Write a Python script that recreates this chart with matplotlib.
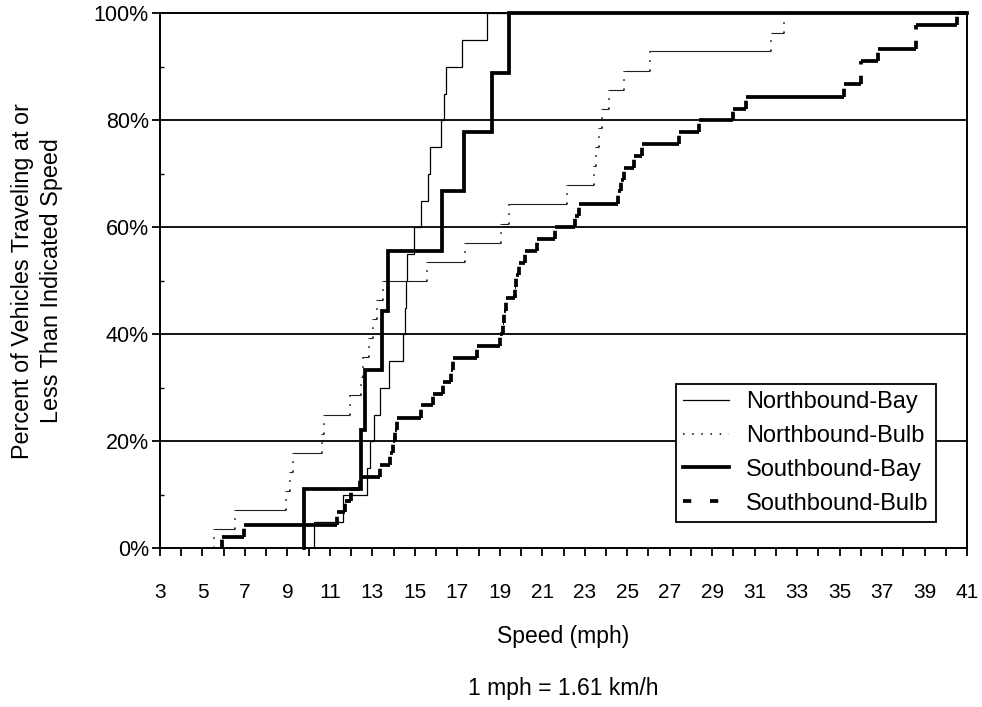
import matplotlib
matplotlib.use("Agg")
import matplotlib.pyplot as plt
from matplotlib.lines import Line2D
from matplotlib.ticker import MultipleLocator, FuncFormatter

plt.rcParams['font.family'] = ['Liberation Sans', 'DejaVu Sans']

# ---------------- data (speed in mph where the cumulative % steps up) ----------------
nb_bay_speed = [10.26, 11.6, 12.75, 12.9, 13.1, 13.35, 13.8, 14.45, 14.55, 14.6,
                14.65, 14.95, 15.3, 15.6, 15.72, 16.25, 16.35, 16.45, 17.2, 18.4]
nb_bay_pct = [5, 10, 15, 20, 25, 30, 35, 40, 45, 50,
              55, 60, 65, 70, 75, 80, 85, 90, 95, 100]

nb_bulb_speed = [5.52, 6.52, 8.95, 9.1, 9.25, 10.65, 10.72, 11.97, 12.47, 12.55,
                 12.82, 13.05, 13.2, 13.5, 15.55, 17.38, 19.05, 19.45, 22.15, 23.45,
                 23.55, 23.65, 23.83, 24.15, 24.87, 26.05, 31.77, 32.38]
nb_bulb_pct = [3.6, 7.1, 10.7, 14.3, 17.9, 21.4, 25.0, 28.6, 32.1, 35.7,
               39.3, 42.9, 46.4, 50.0, 53.6, 57.1, 60.7, 64.3, 67.9, 71.4,
               75.0, 78.6, 82.1, 85.7, 89.3, 92.9, 96.4, 100.0]

sb_bay_speed = [9.8, 12.45, 12.65, 13.45, 13.75, 16.3, 17.3, 18.65, 19.45]
sb_bay_pct = [11.1, 22.2, 33.3, 44.4, 55.6, 66.7, 77.8, 88.9, 100.0]

sb_bulb_speed = [5.9, 6.95, 11.35, 11.7, 12.0, 12.4, 13.35, 13.85, 13.95, 14.05,
                 14.15, 15.3, 15.85, 16.33, 16.72, 16.8, 17.95, 19.03, 19.15, 19.2,
                 19.27, 19.7, 19.78, 19.9, 20.2, 20.75, 21.6, 22.55, 22.75, 24.55,
                 24.7, 24.85, 25.3, 25.68, 27.45, 28.4, 29.97, 30.6, 35.2, 36.0,
                 36.8, 38.6, 40.55]
sb_bulb_pct = [2.2, 4.4, 6.7, 8.9, 11.1, 13.3, 15.6, 17.8, 20.0, 22.2,
               24.4, 26.7, 28.9, 31.1, 33.3, 35.6, 37.8, 40.0, 42.2, 44.4,
               46.7, 48.9, 51.1, 53.3, 55.6, 57.8, 60.0, 62.2, 64.4, 66.7,
               68.9, 71.1, 73.3, 75.6, 77.8, 80.0, 82.2, 84.4, 86.7, 91.1,
               93.3, 97.8, 100.0]

series_names = ['Northbound-Bay', 'Northbound-Bulb', 'Southbound-Bay', 'Southbound-Bulb']
x_min, x_max = 3, 41
x_labels = list(range(3, 42, 2))
y_ticks = [0, 20, 40, 60, 80, 100]

# ---------------- figure ----------------
fig = plt.figure(figsize=(9.82, 7.07), dpi=100)
W, H = 982, 707
L, R, T, B = 160, 967, 13.3, 548.3
ax = fig.add_axes([L / W, 1 - B / H, (R - L) / W, (B - T) / H])
ax.set_xlim(x_min, x_max)
ax.set_ylim(0, 100)

FS_TICK = 15.5
FS_LAB = 16.5
FS_LEG = 17
grid_lw = 1.3

for s in ax.spines.values():
    s.set_linewidth(1.4)
    s.set_color('black')

ax.set_yticks(y_ticks)
ax.set_yticklabels([f"{v}%" for v in y_ticks], fontsize=FS_TICK)
ax.yaxis.set_minor_locator(MultipleLocator(10))
ax.tick_params(axis='y', which='major', direction='out', length=6, width=grid_lw, pad=2)
ax.tick_params(axis='y', which='minor', direction='in', length=3, width=1.0)
for yv in y_ticks[1:-1]:
    ax.axhline(yv, color='black', lw=grid_lw, zorder=1)

ax.xaxis.set_major_locator(MultipleLocator(1))
ax.xaxis.set_major_formatter(FuncFormatter(lambda v, p: f"{int(round(v))}" if int(round(v)) in x_labels else ""))
ax.tick_params(axis='x', which='major', direction='out', length=6, width=1.3, pad=19,
               labelsize=FS_TICK - 0.5)


def solid_step(speed, pct, lw):
    xs = [speed[0]] + list(speed) + [x_max]
    ys = [0] + list(pct) + [pct[-1]]
    ax.step(xs, ys, where='post', color='black', lw=lw, zorder=3, clip_on=False,
            solid_joinstyle='miter')


def mixed_step(speed, pct, h_lw, v_lw, v_dashes, h_color='black'):
    hx0 = list(speed)
    hx1 = list(speed[1:]) + [x_max]
    ax.hlines(pct, hx0, hx1, colors=h_color, lw=h_lw, zorder=3, clip_on=False)
    vy0 = [0] + list(pct[:-1])
    for xv, a, b in zip(speed, vy0, pct):
        ln = Line2D([xv, xv], [a, b], color='black', lw=v_lw, zorder=3, clip_on=False)
        ln.set_dashes(v_dashes)
        ln.set_dash_capstyle('butt')
        ax.add_line(ln)


solid_step(nb_bay_speed, nb_bay_pct, 0.9)
mixed_step(nb_bulb_speed, nb_bulb_pct, 0.8, 1.1, (1, 5), h_color='#222222')
solid_step(sb_bay_speed, sb_bay_pct, 2.7)
mixed_step(sb_bulb_speed, sb_bulb_pct, 2.7, 2.7, (2.2, 3.0))

handles = [
    Line2D([], [], color='black', lw=0.9),
    Line2D([], [], color='black', lw=1.1, dashes=(1, 5)),
    Line2D([], [], color='black', lw=2.7),
    Line2D([], [], color='black', lw=2.7, dashes=(2.2, 5.0)),
]
leg = ax.legend(handles, series_names, loc='lower right', bbox_to_anchor=(0.962, 0.049),
                borderaxespad=0, fontsize=FS_LEG, frameon=True, fancybox=False,
                edgecolor='black', facecolor='white', framealpha=1,
                handlelength=1.95, handletextpad=0.72, labelspacing=0.5, borderpad=0.32)
leg.get_frame().set_linewidth(1.3)
leg.set_zorder(5)

fig.text(563.5 / W, 1 - 636 / H, 'Speed (mph)', ha='center', va='center', fontsize=FS_LAB)
fig.text(563.5 / W, 1 - 688 / H, '1 mph = 1.61 km/h', ha='center', va='center', fontsize=FS_LAB)
fig.text(37 / W, 1 - 281 / H, 'Percent of Vehicles Traveling at or\nLess Than Indicated Speed',
         rotation=90, ha='center', va='center', fontsize=FS_LAB + 0.3, multialignment='center',
         linespacing=1.35)

fig.savefig('out.png', dpi=100, facecolor='white')
